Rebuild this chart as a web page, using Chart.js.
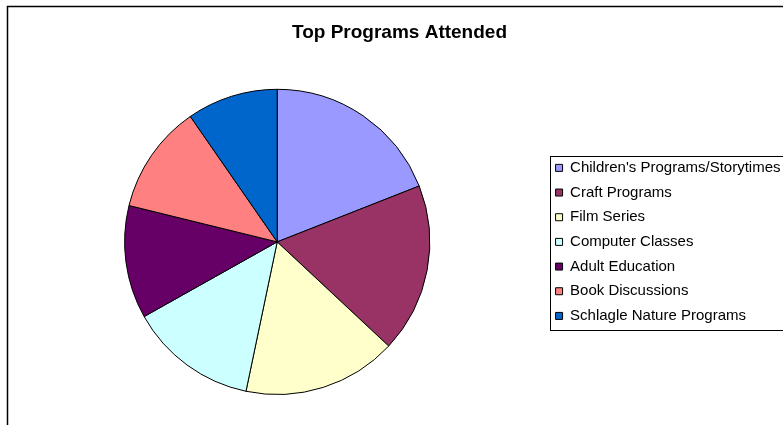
<!DOCTYPE html>
<html><head><meta charset="utf-8">
<script src="https://cdn.jsdelivr.net/npm/chart.js@4"></script>
<style>html,body{margin:0;padding:0;background:#fff;overflow:hidden}#wrap{width:783px;height:425px;position:relative}canvas{display:block}</style>
</head><body><div id="wrap"><canvas id="c" width="783" height="425"></canvas></div>
<script>
const chartTitle = 'Top Programs Attended';
const categories = [
  "Children's Programs/Storytimes",
  'Craft Programs',
  'Film Series',
  'Computer Classes',
  'Adult Education',
  'Book Discussions',
  'Schlagle Nature Programs'
];
const attendance = [19.03, 17.93, 16.32, 13.58, 11.97, 11.53, 9.64];
const sliceColors = ['#9999FF', '#993366', '#FFFFCC', '#CCFFFF', '#660066', '#FF8080', '#0066CC'];

const FONT = "'Liberation Sans', Arial, Helvetica, sans-serif";

const framePlugin = {
  id: 'frame',
  afterDraw(chart) {
    const ctx = chart.ctx;
    ctx.save();
    ctx.strokeStyle = '#000';
    ctx.lineWidth = 1.5;
    ctx.strokeRect(7.5, 6.5, 900, 600);
    const lg = chart.legend;
    if (lg && lg.columnSizes && lg.columnSizes.length) {
      const pad = lg.options.labels.padding;
      const colH = lg.columnSizes[0].height;
      const firstTop = (lg.top + pad + lg.bottom - colH) / 2;
      const itemH = 15;
      const top = firstTop + itemH / 2 - 12;
      const n = chart.data.labels.length;
      const lastMid = firstTop + (n - 1) * (itemH + pad) + itemH / 2;
      const bottom = lastMid + 14;
      ctx.lineWidth = 1;
      ctx.strokeRect(Math.round(lg.left + 4) + 0.5, Math.round(top) + 0.5, 400, Math.round(bottom - top));
    }
    ctx.restore();
  }
};

new Chart(document.getElementById('c'), {
  type: 'pie',
  data: {
    labels: categories,
    datasets: [{
      data: attendance,
      backgroundColor: sliceColors,
      borderColor: '#000',
      borderWidth: 1,
      hoverOffset: 0
    }]
  },
  options: {
    responsive: false,
    animation: false,
    events: [],
    layout: { padding: { left: 8.5, right: -7.5, top: 0, bottom: 30 } },
    plugins: {
      title: {
        display: true,
        text: chartTitle,
        color: '#000',
        font: { family: FONT, size: 19, weight: 'bold', lineHeight: 1.2 },
        padding: { top: 21, bottom: 45 }
      },
      legend: {
        position: 'right',
        align: 'center',
        fullSize: false,
        labels: {
          boxWidth: 7,
          boxHeight: 7,
          padding: 9.67,
          color: '#000',
          font: { family: FONT, size: 15 }
        }
      },
      tooltip: { enabled: false }
    }
  },
  plugins: [framePlugin]
});
</script>
</body></html>
